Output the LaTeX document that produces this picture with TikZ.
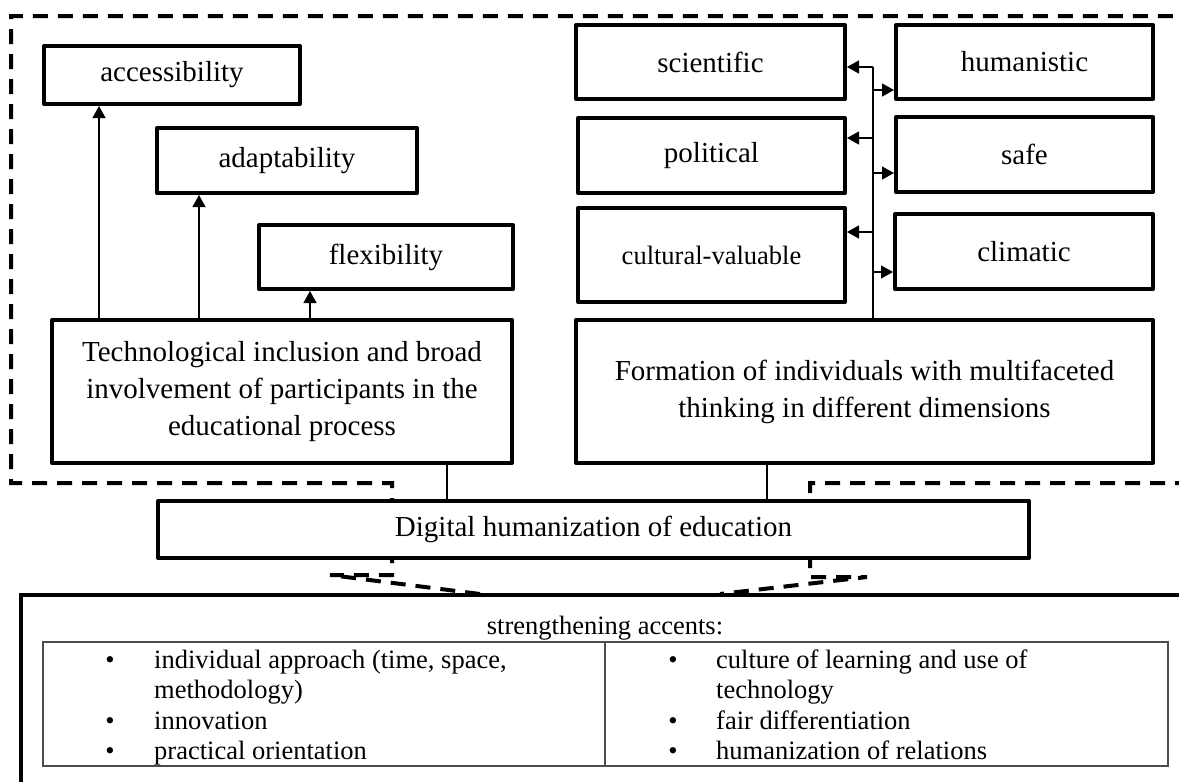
\documentclass[tikz,border=0pt]{standalone}
\usepackage{fontspec}
\setmainfont{Liberation Serif}
\usetikzlibrary{arrows.meta}

\begin{document}
\begin{tikzpicture}[x=1pt, y=-1pt,
        box/.style={draw, line width=4pt, line join=round, fill=white, align=center, inner sep=0pt, font=\fontsize{29}{37}\selectfont},
        link/.style={line width=1.3pt},
        arr/.style={line width=1.3pt, -{Triangle[length=12pt,width=13pt]}},
        frame/.style={line width=4pt, dash pattern=on 15pt off 10pt},
        item/.style={anchor=base west, inner sep=0pt, font=\fontsize{26.5}{30.6}\selectfont}]
        \useasboundingbox (0,0) rectangle (1179,782);
        \clip (0,0) rectangle (1179,782);

        % dashed frame
        \draw[frame] (480,594) -- (330,575) -- (392,575) -- (392,483) -- (11,483) -- (11,16) -- (1190,16);
        \draw[frame] (1190,483) -- (810,483) -- (810,577) -- (867,577) -- (720,594);

        % left group
        \node[box, minimum width=256pt, minimum height=58pt] (acc) at (172,75) {accessibility};
        \node[box, minimum width=260pt, minimum height=65pt] (adapt) at (287,160.5) {adaptability};
        \node[box, minimum width=254pt, minimum height=64pt] (flex) at (386,257) {flexibility};
        \node[box, minimum width=460pt, minimum height=143pt] (tech) at (282,391.5) {Technological inclusion and broad\\involvement of participants in the\\educational process};

        \foreach \x/\n in {99/acc,199/adapt,310/flex}
            \draw[arr] (\x,0 |- tech.north) -- (\x,0 |- \n.south);

        % right group
        \node[box, minimum width=269pt, minimum height=74pt] (sci) at (710.5,62) {scientific};
        \node[box, minimum width=257pt, minimum height=74pt] (hum) at (1024.5,62) {humanistic};
        \node[box, minimum width=267pt, minimum height=75pt] (pol) at (711.5,155.5) {political};
        \node[box, minimum width=257pt, minimum height=75pt] (safe) at (1024.5,154.5) {safe};
        \node[box, minimum width=267pt, minimum height=94pt, font=\fontsize{26.5}{33}\selectfont] (cult) at (711.5,255) {cultural-valuable};
        \node[box, minimum width=258pt, minimum height=75pt] (clim) at (1024,251.5) {climatic};
        \node[box, minimum width=577pt, minimum height=143pt] (form) at (864.5,391.5) {Formation of individuals with multifaceted\\thinking in different dimensions};

        \coordinate (trunk) at (873,67);
        \draw[link] (trunk |- form.north) -- (trunk);
        \foreach \n/\y in {sci/67,pol/138,cult/232}
            \draw[arr] (873,\y) -- (\n.east |- 0,\y);
        \foreach \n/\y in {hum/90,safe/173,clim/272}
            \draw[arr] (873,\y) -- (\n.west |- 0,\y);

        % centre
        \node[box, minimum width=871pt, minimum height=57pt] (dig) at (593.5,529.5) {Digital humanization of education};
        \draw[link] (447,0 |- tech.south) -- (447,0 |- dig.north);
        \draw[link] (767,0 |- form.south) -- (767,0 |- dig.north);

        % accents
        \node[draw, line width=4pt, outer sep=0pt, minimum width=1250pt, minimum height=300pt, anchor=north west] (accents) at (21,595) {};
        \node[item, anchor=base] (title) at (605,634) {strengthening accents:};
        \draw[line width=1.3pt, black!70] (43,642) rectangle (1168,766);
        \draw[line width=1.3pt, black!70] (605,642) -- (605,766);

        \foreach \y/\t [count=\i] in {668/{individual approach (time, space,}, 698.6/{methodology)}, 729.2/{innovation}, 759.8/{practical orientation}}
            \node[item] (left\i) at (154,\y) {\t};
        \foreach \y/\t [count=\i] in {668/{culture of learning and use of}, 698.6/{technology}, 729.2/{fair differentiation}, 759.8/{humanization of relations}}
            \node[item] (right\i) at (716,\y) {\t};
        \foreach \y [count=\i] in {668,729.2,759.8}{
            \node[item, anchor=base] (lb\i) at (110,\y) {\textbullet};
            \node[item, anchor=base] (rb\i) at (673,\y) {\textbullet};
        }
    \end{tikzpicture}
\end{document}
